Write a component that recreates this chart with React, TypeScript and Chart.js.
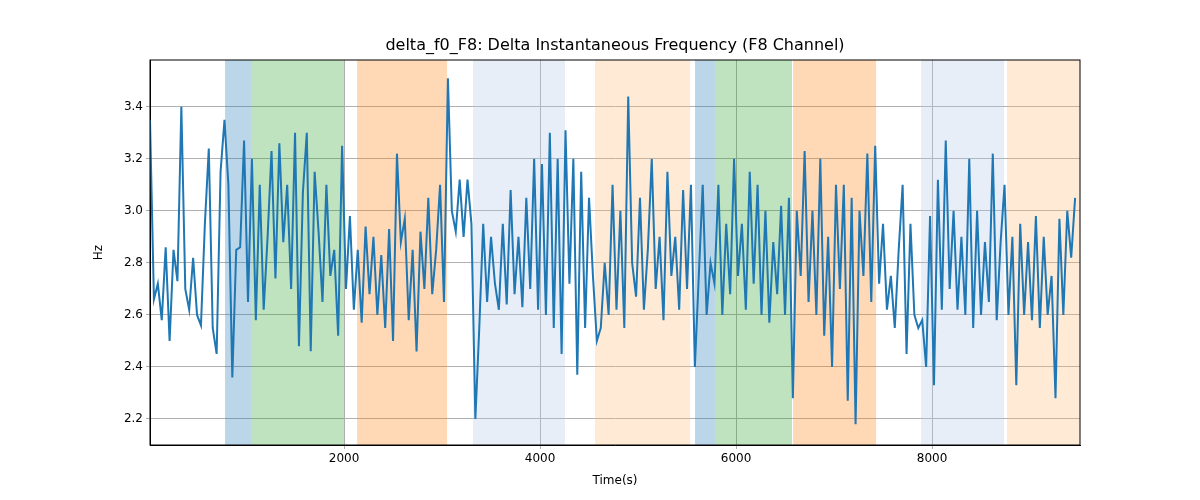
import React, { useEffect, useRef } from "react";
import { Chart, registerables } from "chart.js";
Chart.register(...registerables);

const T0 = 20;
const STEP = 40;
const values: number[] = [
  3.35, 2.66, 2.72, 2.58, 2.86, 2.5, 2.85, 2.73, 3.4, 2.7, 2.62, 2.82, 2.6, 2.56, 2.95, 3.24, 2.55, 2.45, 3.15, 3.35,
  3.1, 2.36, 2.85, 2.86, 3.27, 2.65, 3.2, 2.58, 3.1, 2.62, 2.9, 3.23, 2.74, 3.26, 2.88, 3.1, 2.7, 3.3, 2.48, 3.07, 3.3, 2.46, 3.15, 2.92, 2.65, 3.1, 2.75, 2.85, 2.52, 3.25,
  2.7, 2.98, 2.62, 2.85, 2.57, 2.94, 2.68, 2.9, 2.6, 2.83, 2.55, 2.93, 2.5, 3.22, 2.88, 2.97, 2.58, 2.85, 2.46, 2.92, 2.7, 3.05, 2.68, 2.85, 3.1, 2.65,
  3.51, 3.0, 2.92, 3.12, 2.9, 3.12, 2.95,
  2.2, 2.55, 2.95, 2.65, 2.9, 2.72, 2.62, 2.95, 2.64, 3.08, 2.68, 2.9, 2.63, 3.05, 2.7, 3.2, 2.62, 3.18, 2.6, 3.3, 2.55, 3.2, 2.45, 3.31,
  2.72, 3.2, 2.37, 3.15, 2.55, 3.05, 2.75, 2.5,
  2.55, 2.8, 2.6, 3.1, 2.62, 3.0, 2.55, 3.44, 2.8, 2.67, 3.05, 2.62, 2.85, 3.2, 2.7, 2.9, 2.58, 3.15, 2.75, 2.9, 2.62, 3.08, 2.7, 3.1,
  2.4, 2.75, 3.1, 2.6, 2.8, 2.72,
  3.1, 2.6, 2.95, 2.68, 3.2, 2.75, 2.95, 2.62, 3.15, 2.72, 3.1, 2.6, 3.0, 2.57, 2.88, 2.68, 3.02, 2.6, 3.05, 2.28,
  3.0, 2.75, 3.23, 2.65, 3.0, 2.6, 3.2, 2.52, 2.9, 2.4, 3.1, 2.7, 3.1, 2.27, 3.05, 2.18, 3.0, 2.75, 3.22, 2.65, 3.25,
  2.72, 2.95, 2.62, 2.75, 2.55, 2.85, 3.1, 2.45, 2.95, 2.6, 2.55,
  2.58, 2.4, 2.98, 2.33, 3.12, 2.62, 3.27, 2.7, 3.0, 2.62, 2.9, 2.6, 3.2, 2.55, 3.0, 2.6, 2.88, 2.65, 3.22, 2.58, 2.88,
  3.1, 2.6, 2.9, 2.33, 2.95, 2.6, 2.88, 2.58, 2.98, 2.55, 2.9, 2.6, 2.75, 2.28, 2.97, 2.6, 3.0, 2.82, 3.05,
];

const bands: [number, number, string][] = [
  [786, 1051, "rgba(31,119,180,0.3)"],
  [1051, 2000, "rgba(44,160,44,0.3)"],
  [2133, 3051, "rgba(255,127,14,0.3)"],
  [3316, 4255, "rgba(174,199,232,0.3)"],
  [4561, 5531, "rgba(255,187,120,0.3)"],
  [5582, 5786, "rgba(31,119,180,0.3)"],
  [5786, 6571, "rgba(44,160,44,0.3)"],
  [6582, 7429, "rgba(255,127,14,0.3)"],
  [7888, 8735, "rgba(174,199,232,0.3)"],
  [8765, 9510, "rgba(255,187,120,0.3)"],
];
const xTicks = [2000, 4000, 6000, 8000];
const yTicks = [2.2, 2.4, 2.6, 2.8, 3.0, 3.2, 3.4];
const TITLE = "delta_f0_F8: Delta Instantaneous Frequency (F8 Channel)";

export default function App() {
  const ref = useRef<HTMLCanvasElement>(null);
  useEffect(() => {
    document.body.style.margin = "0";
    const pts = values.map((v, i) => ({ x: T0 + i * STEP, y: v }));
    const font = { family: "DejaVu Sans", size: 12 };
    const chart = new Chart(ref.current!, {
      type: "line",
      data: { datasets: [{ data: pts, borderColor: "#1f77b4", borderWidth: 2, pointRadius: 0, tension: 0 }] },
      options: {
        animation: false,
        responsive: false,
        layout: { padding: { top: 60, right: 120, left: 92, bottom: 12 } },
        plugins: { legend: { display: false }, tooltip: { enabled: false } },
        scales: {
          x: {
            type: "linear", min: 20, max: 9510,
            afterBuildTicks: (a: any) => { a.ticks = xTicks.map((v) => ({ value: v })); },
            afterFit: (a: any) => { a.height = 43; },
            ticks: { color: "#000", font, callback: (v: any) => String(v) },
            grid: { color: "#b0b0b0", drawTicks: true, tickLength: 4 },
            border: { color: "#000" },
            title: { display: true, text: "Time(s)", color: "#000", font, padding: 0 },
          },
          y: {
            min: 2.1, max: 3.58,
            afterBuildTicks: (a: any) => { a.ticks = yTicks.map((v) => ({ value: v })); },
            afterFit: (a: any) => { a.width = 58; },
            ticks: { color: "#000", font, callback: (v: any) => Number(v).toFixed(1) },
            grid: { color: "#b0b0b0", tickLength: 4 },
            border: { color: "#000" },
            title: { display: true, text: "Hz", color: "#000", font, padding: 0 },
          },
        },
      },
      plugins: [{
        id: "bands",
        beforeDatasetsDraw(c: any) {
          const { ctx, chartArea: a, scales } = c;
          ctx.save();
          for (const [s, e, col] of bands) {
            const x1 = scales.x.getPixelForValue(s), x2 = scales.x.getPixelForValue(e);
            ctx.fillStyle = col;
            ctx.fillRect(x1, a.top, x2 - x1, a.bottom - a.top);
          }
          ctx.restore();
        },
        afterDraw(c: any) {
          const { ctx, chartArea: a } = c;
          ctx.save();
          ctx.fillStyle = "#000";
          ctx.font = "16px 'DejaVu Sans'";
          ctx.textAlign = "center";
          ctx.textBaseline = "bottom";
          ctx.fillText(TITLE, (a.left + a.right) / 2, a.top - 6);
          ctx.strokeStyle = "#000";
          ctx.lineWidth = 1;
          ctx.strokeRect(a.left, a.top, a.right - a.left, a.bottom - a.top);
          ctx.restore();
        },
      }],
    } as any);
    return () => chart.destroy();
  }, []);
  return <div style={{ width: 1200, height: 500 }}><canvas ref={ref} width={1200} height={500} /></div>;
}
